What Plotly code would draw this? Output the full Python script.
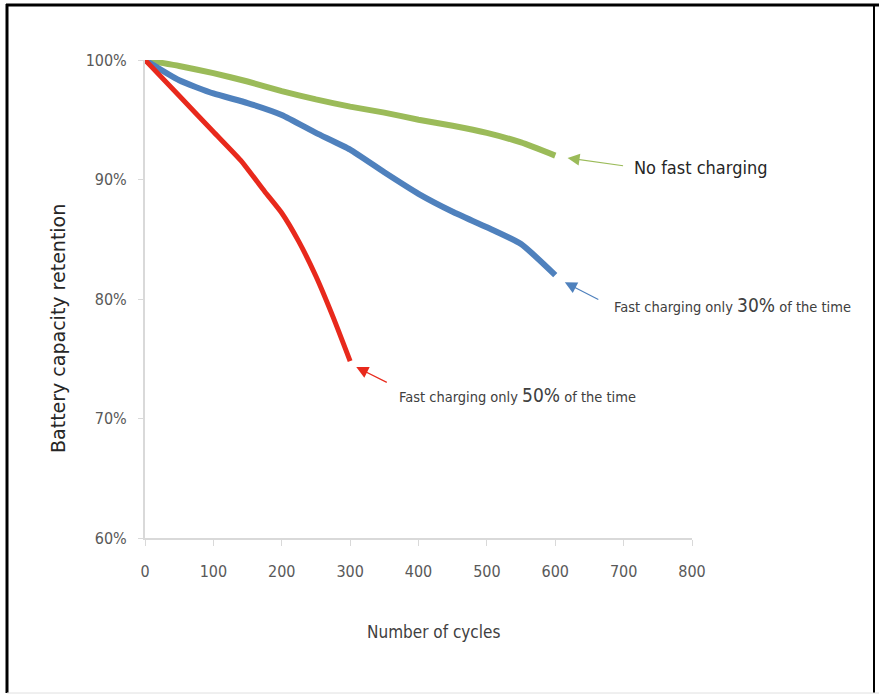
import plotly.graph_objects as go

# Capacity retention (%) versus charge cycles
cycles = [0, 50, 100, 150, 200, 250, 300, 350, 400, 450, 500, 550, 600]
no_fast = [100, 99.5, 98.9, 98.2, 97.4, 96.7, 96.1, 95.6, 95.0, 94.5, 93.9, 93.1, 92.0]
fast_30 = [100, 98.3, 97.2, 96.4, 95.4, 93.9, 92.5, 90.6, 88.8, 87.3, 86.0, 84.6, 82.0]

cycles_50 = [0, 50, 100, 140, 175, 200, 225, 250, 275, 300]
fast_50 = [100, 97.0, 94.0, 91.6, 89.0, 87.2, 84.8, 81.9, 78.5, 74.8]

x_ticks = [0, 100, 200, 300, 400, 500, 600, 700, 800]
y_ticks = [60, 70, 80, 90, 100]
y_tick_text = ["60%", "70%", "80%", "90%", "100%"]

GREEN = "#9BBB59"
BLUE = "#4F81BD"
RED = "#E8291C"
NARROW = "Liberation Sans Narrow, DejaVu Sans Condensed, Arial Narrow, sans-serif"

W, H = 879, 695
L, R, T, B = 145, 187, 60, 157
PW, PH = W - L - R, H - T - B


def px(x):
    return (x - L) / PW


def py(y):
    return (H - B - y) / PH


fig = go.Figure()
fig.add_trace(go.Scatter(x=cycles, y=no_fast, mode="lines",
                         line=dict(color=GREEN, width=6, shape="spline", smoothing=0.5)))
fig.add_trace(go.Scatter(x=cycles, y=fast_30, mode="lines",
                         line=dict(color=BLUE, width=6, shape="spline", smoothing=0.5)))
fig.add_trace(go.Scatter(x=cycles_50, y=fast_50, mode="lines",
                         line=dict(color=RED, width=5, shape="spline", smoothing=0.5)))

# Arrows pointing at the end of each curve
arrows = [
    (cycles[-1], no_fast[-1], GREEN, 18, -0.2, 57, 8),
    (cycles[-1], fast_30[-1], BLUE, 14, -0.6, 35, 18),
    (cycles_50[-1], fast_50[-1], RED, 9, -0.5, 32, 16),
]
for xe, ye, col, dx, dy, ax, ay in arrows:
    fig.add_annotation(x=xe + dx, y=ye + dy, text="", showarrow=True,
                       ax=ax, ay=ay, arrowhead=2, arrowsize=2,
                       arrowwidth=1.2, arrowcolor=col)

fig.add_annotation(x=712, y=91.0, text="No fast charging", showarrow=False,
                   xanchor="left", yanchor="middle",
                   font=dict(family=NARROW, size=18, color="#262626"))
fig.add_annotation(x=683, y=79.5,
                   text="Fast charging only <span style='font-size:19px'>30%</span> of the time",
                   showarrow=False, xanchor="left", yanchor="middle",
                   font=dict(family=NARROW, size=14.5, color="#404040"))
fig.add_annotation(x=368, y=72.0,
                   text="Fast charging only <span style='font-size:19px'>50%</span> of the time",
                   showarrow=False, xanchor="left", yanchor="middle",
                   font=dict(family=NARROW, size=14.5, color="#404040"))

# Axis titles
fig.add_annotation(xref="paper", yref="paper", x=px(58), y=py(329),
                   xanchor="center", yanchor="middle",
                   text="Battery capacity retention", textangle=-90, showarrow=False,
                   font=dict(family="DejaVu Sans, Verdana, sans-serif", size=19, color="#262626"))
fig.add_annotation(xref="paper", yref="paper", x=px(433), y=py(632),
                   xanchor="center", yanchor="middle",
                   text="Number of cycles", showarrow=False,
                   font=dict(family=NARROW, size=17, color="#404040"))

# Outer frame
fig.add_shape(type="line", xref="paper", yref="paper", x0=px(7), x1=px(7), y0=py(4), y1=py(693),
              line=dict(color="black", width=3))
fig.add_shape(type="line", xref="paper", yref="paper", x0=px(6), x1=px(879), y0=py(5), y1=py(5),
              line=dict(color="black", width=3))
fig.add_shape(type="line", xref="paper", yref="paper", x0=px(874), x1=px(874), y0=py(4), y1=py(693),
              line=dict(color="black", width=2))
fig.add_shape(type="line", xref="paper", yref="paper", x0=px(7), x1=px(879), y0=py(693), y1=py(693),
              line=dict(color="#E0E0E0", width=1))

fig.update_layout(
    width=W, height=H,
    margin=dict(l=L, r=R, t=T, b=B),
    paper_bgcolor="white", plot_bgcolor="white",
    showlegend=False,
    xaxis=dict(range=[0, 800], tickvals=x_ticks, showgrid=False, zeroline=False,
               showline=True, linecolor="#D9D9D9", linewidth=2,
               ticks="outside", ticklen=6, tickcolor="#D9D9D9", tickwidth=1,
               ticklabelstandoff=12,
               tickfont=dict(family=NARROW, size=16, color="#595959")),
    yaxis=dict(range=[60, 100], tickvals=y_ticks, ticktext=y_tick_text,
               showgrid=False, zeroline=False,
               showline=True, linecolor="#D9D9D9", linewidth=2,
               ticks="outside", ticklen=5, tickcolor="#D9D9D9", tickwidth=1,
               ticklabelstandoff=8,
               tickfont=dict(family=NARROW, size=16, color="#595959")),
)

fig.write_html("out.html")
